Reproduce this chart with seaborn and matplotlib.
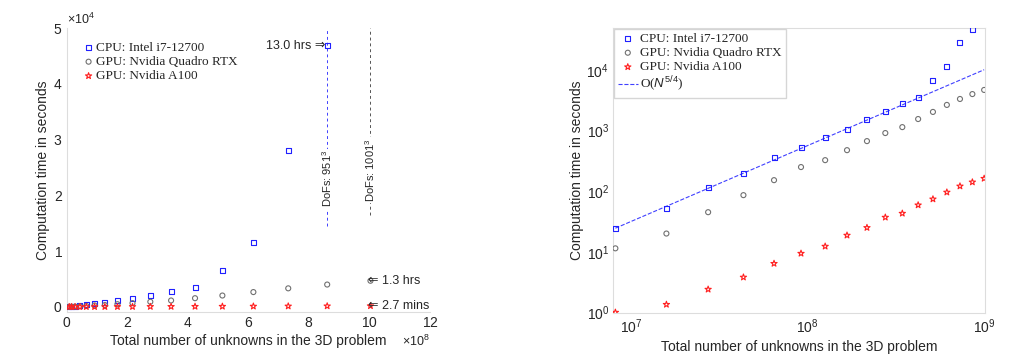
import numpy as np
import pandas as pd
import matplotlib
matplotlib.use("Agg")
import matplotlib.pyplot as plt
import matplotlib.ticker as mticker
import seaborn as sns

# ---------------- data ----------------
grid_n = [201, 251, 301, 351, 401, 451, 501, 551, 601, 651, 701, 751, 801, 851, 901, 951, 1001]
cpu_time = [24.5, 52, 117, 199, 364, 535, 780, 1060, 1550, 2100, 2750, 3450, 6600, 11500, 28000, 46800, np.nan]
quadro_time = [11.4, 20, 45, 86, 152, 250, 325, 475, 670, 910, 1140, 1550, 2030, 2650, 3320, 4000, 4680]
a100_time = [1.0, 1.35, 2.4, 3.8, 6.4, 9.4, 12.3, 18.7, 25, 37, 43, 59, 74, 96, 121, 141, 162]
series_names = ["CPU: Intel i7-12700", "GPU: Nvidia Quadro RTX", "GPU: Nvidia A100"]
ref_label = r"O($\mathit{N}^{5/4}$)"

dofs = np.array(grid_n, dtype=float) ** 3

sns.set_theme(style="white")
plt.rcParams["font.family"] = ["Liberation Sans", "DejaVu Sans"]
plt.rcParams["mathtext.fontset"] = "custom"
plt.rcParams["mathtext.rm"] = "Liberation Sans"
plt.rcParams["mathtext.it"] = "Liberation Sans:italic"

colors = ["#2020ff", "#707070", "#ff2020"]
markers = ["s", "o", "*"]
sizes = [13, 13, 22]

fig = plt.figure(figsize=(10.12, 3.56), dpi=100, facecolor="white")
axL = fig.add_axes([0.066, 0.124, 0.359, 0.797])
axR = fig.add_axes([0.606, 0.121, 0.367, 0.800])

series = [cpu_time, quadro_time, a100_time]

def draw(ax):
    for vals, name, c, m, s in zip(series, series_names, colors, markers, sizes):
        df = pd.DataFrame({"dofs": dofs, "time": vals}).dropna()
        sns.scatterplot(data=df, x="dofs", y="time", marker=m, s=s,
                        facecolor="none", edgecolor=c, linewidth=0.8,
                        ax=ax, label=name, zorder=3)

draw(axL)
draw(axR)

# reference slope line anchored at first CPU point
ref = cpu_time[0] * (dofs / dofs[0]) ** 1.25
sns.lineplot(x=dofs, y=ref, ax=axR, color="#4040ff", linestyle="--",
             linewidth=0.8, label=ref_label, zorder=2)

# ---------- left axes ----------
axL.set_xlim(0, 12e8)
axL.set_ylim(-900, 5e4)
axL.set_xticks(np.arange(0, 12.1e8, 2e8))
axL.set_yticks(np.arange(0, 5.1e4, 1e4))
fmt = mticker.ScalarFormatter(useMathText=True)
fmt.set_powerlimits((8, 8))
axL.xaxis.set_major_formatter(fmt)
fmt2 = mticker.ScalarFormatter(useMathText=True)
fmt2.set_powerlimits((4, 4))
axL.yaxis.set_major_formatter(fmt2)

x951 = dofs[grid_n.index(951)]
x1001 = dofs[grid_n.index(1001)]
axL.vlines(x951, 1.45e4, 5e4, colors="#4040ff", linestyles=(0, (3, 3)), linewidth=0.7, zorder=1)
axL.vlines(x1001, 1.65e4, 5e4, colors="#555555", linestyles=(0, (3, 3)), linewidth=0.7, zorder=1)
axL.text(x951, 2.3e4, r"DoFs: 951$^3$", rotation=90, ha="center", va="center", fontsize=8,
         bbox=dict(facecolor="white", edgecolor="none", pad=1))
axL.text(x1001, 2.45e4, r"DoFs: 1001$^3$", rotation=90, ha="center", va="center", fontsize=8,
         bbox=dict(facecolor="white", edgecolor="none", pad=1))
axL.annotate("13.0 hrs \u21d2", xy=(x951, cpu_time[grid_n.index(951)]), xytext=(-1, 0),
             textcoords="offset points", ha="right", va="center", fontsize=9)
axL.annotate("\u21d0 1.3 hrs", xy=(x1001, quadro_time[-1]), xytext=(-2, 0),
             textcoords="offset points", ha="left", va="center", fontsize=9)
axL.annotate("\u21d0 2.7 mins", xy=(x1001, a100_time[-1]), xytext=(-2, 0),
             textcoords="offset points", ha="left", va="center", fontsize=9)

# ---------- right axes ----------
axR.set_xscale("log")
axR.set_yscale("log")
axR.set_xlim(7.9e6, 1.01e9)
axR.set_ylim(0.98, 4.9e4)
axR.xaxis.set_major_locator(mticker.LogLocator(base=10, numticks=10))
axR.yaxis.set_major_locator(mticker.LogLocator(base=10, numticks=10))

for ax in (axL, axR):
    ax.set_xlabel("Total number of unknowns in the 3D problem", fontsize=10, labelpad=3)
    ax.set_ylabel("Computation time in seconds", fontsize=10, labelpad=2)
    ax.tick_params(axis="both", which="both", direction="in", labelsize=10,
                   color="#bbbbbb", length=3, pad=3)
    ax.tick_params(which="minor", length=2)
    ax.xaxis.get_offset_text().set_fontsize(9)
    ax.yaxis.get_offset_text().set_fontsize(9)
    for sp in ax.spines.values():
        sp.set_color("#dddddd")
        sp.set_linewidth(0.8)

axL.spines["top"].set_visible(False)
axL.spines["right"].set_visible(False)

legL = axL.legend(loc="upper left", fontsize=9.5, frameon=False, handletextpad=0.1,
                  borderaxespad=0.2, labelspacing=0.15, handlelength=1.0,
                  bbox_to_anchor=(0.02, 0.98))
legR = axR.legend(loc="upper left", fontsize=9.5, frameon=True, handletextpad=0.2,
                  borderaxespad=0.05, labelspacing=0.15, handlelength=1.5,
                  fancybox=False, edgecolor="#cccccc", borderpad=0.3)
for leg in (legL, legR):
    for t in leg.get_texts():
        t.set_family(["Liberation Serif", "DejaVu Serif"])

fig.savefig("out.png", dpi=100, facecolor="white")
